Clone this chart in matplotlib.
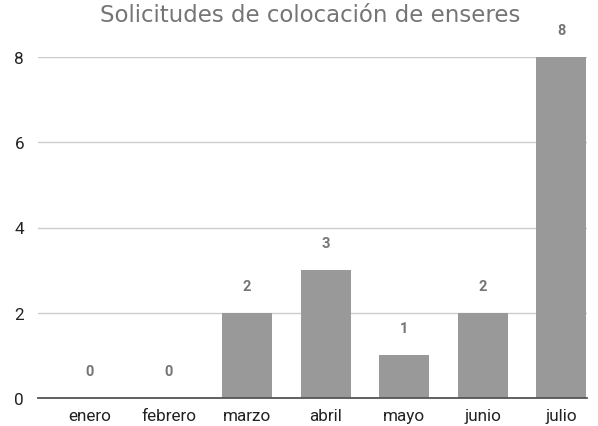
import matplotlib.pyplot as plt

# Datos: solicitudes por mes
meses = ["enero", "febrero", "marzo", "abril", "mayo", "junio", "julio"]
solicitudes = [0, 0, 2, 3, 1, 2, 8]
yticks = [0, 2, 4, 6, 8]

color_barra = "#999999"
color_texto = "#757575"

fig = plt.figure(figsize=(5.98, 4.27), dpi=100)
ax = fig.add_axes([38 / 598, 28 / 427, 549 / 598, 341 / 427])

x = list(range(len(meses)))
ax.bar(x, solicitudes, width=0.637, color=color_barra, zorder=3)

# Etiquetas de valor sobre cada barra
for xi, v in zip(x, solicitudes):
    ax.annotate(str(v), (xi, v), xytext=(0, 27), textcoords="offset pixels",
                ha="center", va="center", fontsize=10.5, fontweight="bold",
                color=color_texto, family="Roboto", annotation_clip=False)

ax.set_xlim(-0.662, 6.33)
ax.set_ylim(0, 8)
ax.set_xticks(x)
ax.set_xticklabels(meses, family="Roboto", fontsize=12.3, color="#222222")
ax.set_yticks(yticks)
ax.set_yticklabels([str(t) for t in yticks], family="Roboto", fontsize=12.3,
                   color="#222222")
ax.tick_params(axis="both", length=0)
ax.tick_params(axis="x", pad=7)
ax.tick_params(axis="y", pad=10)

ax.grid(axis="y", color="#cccccc", linewidth=1, zorder=0)
for lado in ["top", "right", "left"]:
    ax.spines[lado].set_visible(False)
ax.spines["bottom"].set_color("#555555")
ax.spines["bottom"].set_linewidth(1.3)
ax.spines["bottom"].set_zorder(4)

fig.text(310 / 598, 1 - 16 / 427, "Solicitudes de colocación de enseres",
         ha="center", va="center", fontsize=16.5, color=color_texto,
         family="DejaVu Sans")

fig.savefig("out.png", dpi=100)
